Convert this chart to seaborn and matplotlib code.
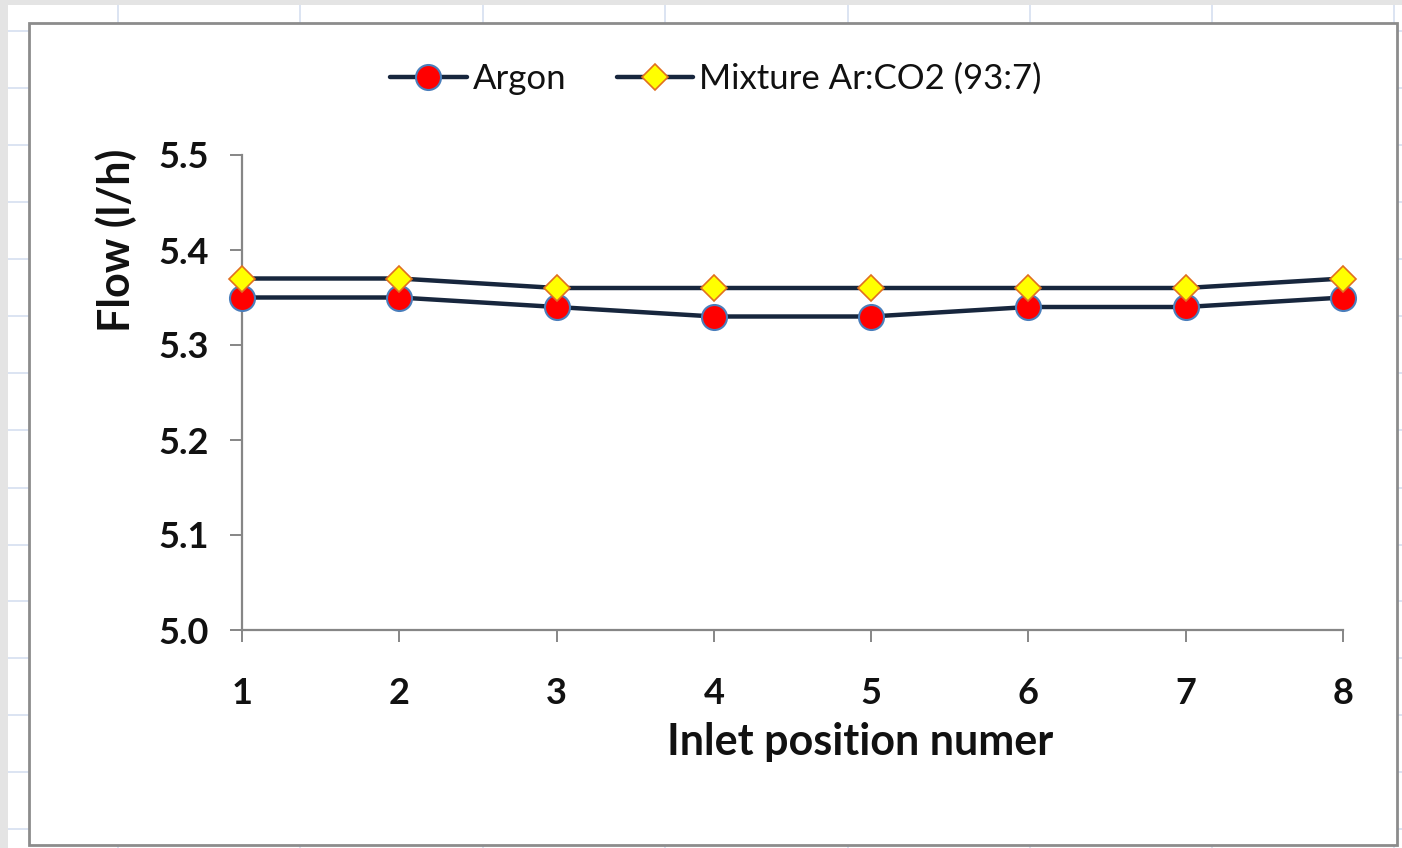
import matplotlib
matplotlib.use("Agg")
import matplotlib.pyplot as plt
import seaborn as sns
import pandas as pd
from matplotlib.patches import Rectangle
from matplotlib.lines import Line2D

# ---- data ----
positions = [1, 2, 3, 4, 5, 6, 7, 8]
argon = [5.35, 5.35, 5.34, 5.33, 5.33, 5.34, 5.34, 5.35]
mixture = [5.37, 5.37, 5.36, 5.36, 5.36, 5.36, 5.36, 5.37]
yticks = [5.0, 5.1, 5.2, 5.3, 5.4, 5.5]
series_names = ["Argon", "Mixture Ar:CO2 (93:7)"]

df = pd.DataFrame({"pos": positions, "argon": argon, "mixture": mixture})

sns.set_style("white")
plt.rcParams["font.family"] = ["Lato", "DejaVu Sans"]

W, H = 1402, 848
fig = plt.figure(figsize=(W / 100, H / 100), dpi=100)
fig.patch.set_facecolor("white")

def fx(x):
    return x / W

def fy(y):
    return 1 - y / H

# spreadsheet background
grid_col = "#d6dff0"
for gy in [31, 88, 145, 202, 259, 316, 373, 430, 488, 545, 601, 658, 715, 772, 829]:
    fig.add_artist(Line2D([0, 1], [fy(gy), fy(gy)], transform=fig.transFigure,
                          color=grid_col, lw=1.2, zorder=-3))
for gx in [118, 300, 483, 665, 848, 1030, 1212, 1394]:
    fig.add_artist(Line2D([fx(gx), fx(gx)], [0, 1], transform=fig.transFigure,
                          color=grid_col, lw=1.2, zorder=-3))
fig.add_artist(Rectangle((0, 0), fx(8), 1, transform=fig.transFigure,
                         facecolor="#e4e4e4", edgecolor="none", zorder=-2))
fig.add_artist(Rectangle((0, fy(5)), 1, 1 - fy(5), transform=fig.transFigure,
                         facecolor="#e4e4e4", edgecolor="none", zorder=-2))
# chart frame
fig.add_artist(Rectangle((fx(29), fy(845)), fx(1397) - fx(29), fy(23) - fy(845),
                         transform=fig.transFigure, facecolor="white",
                         edgecolor="#8c8c8c", lw=2.0, zorder=-1))

ax = fig.add_axes([fx(242), fy(630), fx(1343) - fx(242), fy(155) - fy(630)])
ax.set_zorder(2)
ax.set_facecolor("none")

navy = "#17263d"
sns.lineplot(data=df, x="pos", y="argon", ax=ax, color=navy, lw=3.2,
             marker="o", ms=18, mfc="#ff0000", mec="#4a7ebb", mew=1.5,
             label=series_names[0], clip_on=False, zorder=3)
sns.lineplot(data=df, x="pos", y="mixture", ax=ax, color=navy, lw=3.2,
             marker="D", ms=13, mfc="#ffff00", mec="#e07020", mew=1.2,
             label=series_names[1], clip_on=False, zorder=4)

ax.set_xlim(1, 8)
ax.set_ylim(5.0, 5.5)
ax.set_xticks(positions)
ax.set_xticklabels([str(p) for p in positions])
ax.set_yticks(yticks)
ax.set_yticklabels([f"{v:.1f}" for v in yticks])

for s in ["top", "right"]:
    ax.spines[s].set_visible(False)
for s in ["left", "bottom"]:
    ax.spines[s].set_color("#868686")
    ax.spines[s].set_linewidth(1.6)

ax.tick_params(axis="both", direction="out", length=8.6, width=1.4,
               color="#868686", labelsize=26, labelcolor="#111111",
               bottom=True, left=True)
ax.tick_params(axis="x", pad=25)
ax.tick_params(axis="y", pad=15)
for lab in ax.get_xticklabels() + ax.get_yticklabels():
    lab.set_fontweight("bold")

ax.set_xlabel("Inlet position numer", fontsize=31, fontweight="bold", color="#111111")
ax.set_ylabel("Flow (l/h)", fontsize=31, fontweight="bold", color="#111111")
ax.xaxis.set_label_coords((860 - 242) / 1101, (630 - 722) / 475)
ax.yaxis.set_label_coords((137 - 242) / 1101, (630 - 240) / 475)

leg = ax.legend(loc="center", bbox_to_anchor=(fx(716), fy(79)),
                bbox_transform=fig.transFigure, ncol=2, frameon=False,
                fontsize=25, handlelength=2.2, handletextpad=0.17,
                columnspacing=1.47)
for t in leg.get_texts():
    t.set_color("#111111")

fig.savefig("out.png", dpi=100, facecolor=fig.get_facecolor())
